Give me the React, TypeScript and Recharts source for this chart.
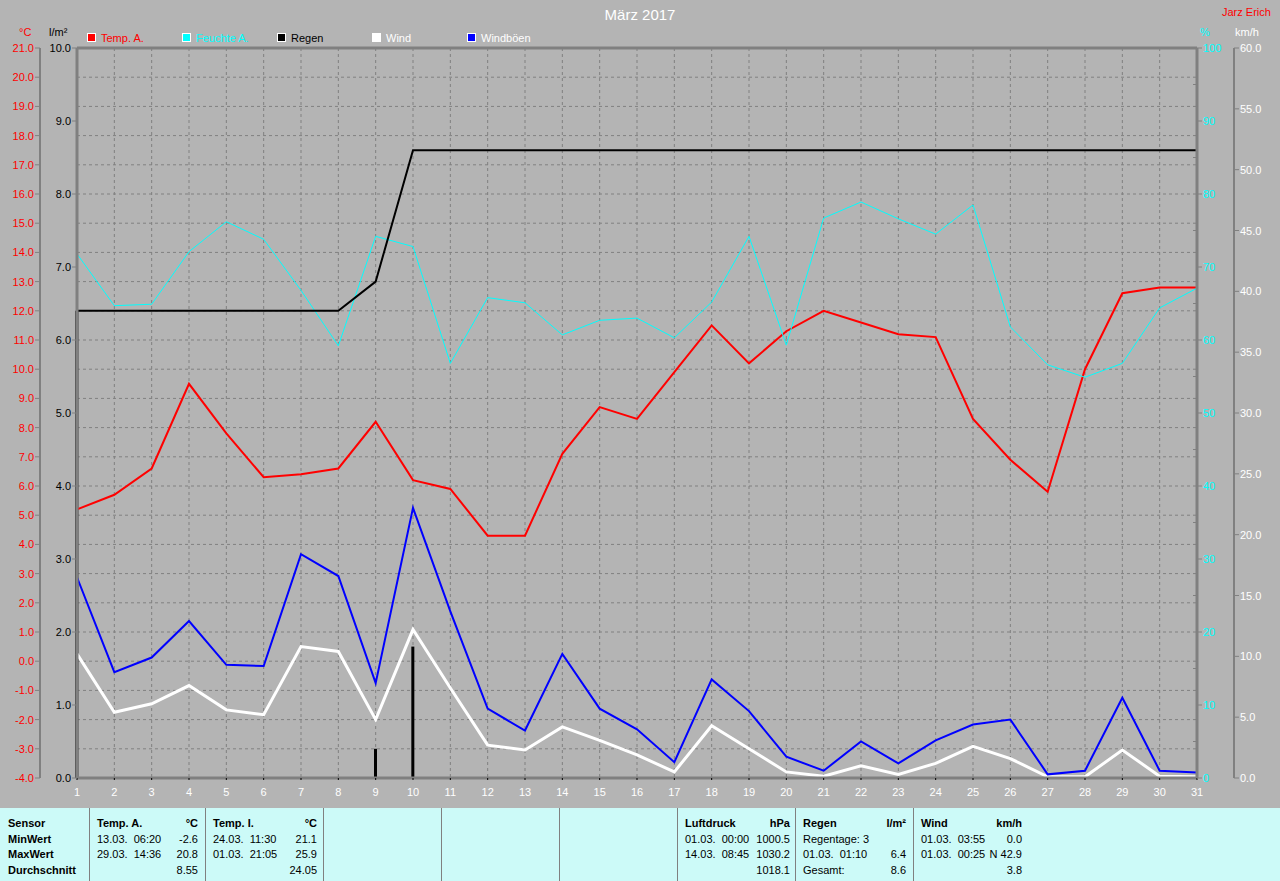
import React from 'react';
import { ComposedChart, Line, Bar, XAxis, YAxis, CartesianGrid, ReferenceLine } from 'recharts';

const days = [1, 2, 3, 4, 5, 6, 7, 8, 9, 10, 11, 12, 13, 14, 15, 16, 17, 18, 19, 20, 21, 22, 23, 24, 25, 26, 27, 28, 29, 30, 31];
const tempA = [5.2, 5.7, 6.6, 9.5, 7.8, 6.3, 6.4, 6.6, 8.2, 6.2, 5.9, 4.3, 4.3, 7.1, 8.7, 8.3, 9.9, 11.5, 10.2, 11.3, 12.0, 11.6, 11.2, 11.1, 8.3, 6.9, 5.8, 10.0, 12.6, 12.8, 12.8];
const humidity = [71.8, 64.7, 64.9, 72.1, 76.2, 73.8, 66.8, 59.2, 74.2, 72.8, 56.8, 65.8, 65.1, 60.7, 62.7, 63.0, 60.3, 65.2, 74.2, 59.3, 76.7, 78.9, 76.6, 74.5, 78.5, 61.8, 56.6, 54.9, 56.8, 64.4, 67.1];
const rainDaily = [6.4, 0, 0, 0, 0, 0, 0, 0, 0.4, 1.8, 0, 0, 0, 0, 0, 0, 0, 0, 0, 0, 0, 0, 0, 0, 0, 0, 0, 0, 0, 0, 0];
const rainTotal = [6.4, 6.4, 6.4, 6.4, 6.4, 6.4, 6.4, 6.4, 6.8, 8.6, 8.6, 8.6, 8.6, 8.6, 8.6, 8.6, 8.6, 8.6, 8.6, 8.6, 8.6, 8.6, 8.6, 8.6, 8.6, 8.6, 8.6, 8.6, 8.6, 8.6, 8.6];
const wind = [10.2, 5.4, 6.1, 7.6, 5.6, 5.2, 10.8, 10.4, 4.8, 12.2, 7.4, 2.7, 2.3, 4.2, 3.1, 1.9, 0.5, 4.3, 2.4, 0.5, 0.15, 1.0, 0.3, 1.2, 2.6, 1.6, 0.1, 0.1, 2.3, 0.15, 0.1];
const gusts = [16.5, 8.7, 9.9, 12.9, 9.3, 9.2, 18.4, 16.6, 7.8, 22.2, 13.7, 5.7, 3.9, 10.2, 5.7, 4.0, 1.3, 8.1, 5.5, 1.75, 0.6, 3.0, 1.2, 3.1, 4.4, 4.8, 0.3, 0.6, 6.6, 0.6, 0.45];

const tempTicks = [-4, -3, -2, -1, 0, 1, 2, 3, 4, 5, 6, 7, 8, 9, 10, 11, 12, 13, 14, 15, 16, 17, 18, 19, 20, 21];
const rainTicks = [0, 1, 2, 3, 4, 5, 6, 7, 8, 9, 10];
const humTicks = [0, 5, 10, 15, 20, 25, 30, 35, 40, 45, 50, 55, 60, 65, 70, 75, 80, 85, 90, 95, 100];
const windTicks = [0, 5, 10, 15, 20, 25, 30, 35, 40, 45, 50, 55, 60];

const legendItems = [
  { name: 'Temp. A.', color: '#ff0000', text: '#ff0000' },
  { name: 'Feuchte A.', color: '#00ffff', text: '#00ffff' },
  { name: 'Regen', color: '#000000', text: '#000000' },
  { name: 'Wind', color: '#ffffff', text: '#ffffff' },
  { name: 'Windböen', color: '#0000ff', text: '#ffffff' },
];

// table columns: header + 3 rows, [left, right]
const tableCols = [
  { x: 0, w: 89, right: 0, bold: true, rows: [['Sensor', ''], ['MinWert', ''], ['MaxWert', ''], ['Durchschnitt', '']] },
  { x: 89, w: 116, right: 198, bold: false, rows: [['Temp. A.', '°C'], ['13.03.  06:20', '-2.6'], ['29.03.  14:36', '20.8'], ['', '8.55']] },
  { x: 205, w: 118, right: 317, bold: false, rows: [['Temp. I.', '°C'], ['24.03.  11:30', '21.1'], ['01.03.  21:05', '25.9'], ['', '24.05']] },
  { x: 323, w: 118, right: 0, bold: false, rows: [] },
  { x: 441, w: 118, right: 0, bold: false, rows: [] },
  { x: 559, w: 118, right: 0, bold: false, rows: [] },
  { x: 677, w: 118, right: 790, bold: false, rows: [['Luftdruck', 'hPa'], ['01.03.  00:00', '1000.5'], ['14.03.  08:45', '1030.2'], ['', '1018.1']] },
  { x: 795, w: 118, right: 906, bold: false, rows: [['Regen', 'l/m²'], ['Regentage: 3', ''], ['01.03.  01:10', '6.4'], ['Gesamt:', '8.6']] },
  { x: 913, w: 367, right: 1022, bold: false, rows: [['Wind', 'km/h'], ['01.03.  03:55', '0.0'], ['01.03.  00:25', 'N 42.9'], ['', '3.8']] },
];

const FONT = '"Liberation Sans", Arial, sans-serif';

const data = days.map((d, i) => ({
  day: d,
  temp: tempA[i],
  hum: humidity[i],
  rain: rainDaily[i],
  total: rainTotal[i],
  wind: wind[i],
  gust: gusts[i],
}));

const TempTick = (props: any) => {
  const { x, y, payload } = props;
  return (
    <g>
      <line x1={x - 5} x2={x} y1={y} y2={y} stroke="#808080" />
      <text x={x - 6} y={y} dy={4} textAnchor="end" fill="#ff0000" fontSize={11} fontFamily={FONT}>
        {payload.value.toFixed(1)}
      </text>
    </g>
  );
};

const RainTick = (props: any) => {
  const { x, y, payload } = props;
  return (
    <g>
      <line x1={x - 5} x2={x} y1={y} y2={y} stroke="#808080" />
      <text x={x - 6} y={y} dy={4} textAnchor="end" fill="#000000" fontSize={11} fontFamily={FONT}>
        {payload.value.toFixed(1)}
      </text>
    </g>
  );
};

const HumTick = (props: any) => {
  const { x, y, payload } = props;
  if (payload.value % 10 !== 0) {
    return <line x1={x - 4} x2={x} y1={y} y2={y} stroke="#808080" />;
  }
  return (
    <g>
      <line x1={x} x2={x + 5} y1={y} y2={y} stroke="#808080" />
      <text x={x + 6} y={y} dy={4} textAnchor="start" fill="#00ffff" fontSize={11} fontFamily={FONT}>
        {payload.value}
      </text>
    </g>
  );
};

const WindTick = (props: any) => {
  const { x, y, payload } = props;
  return (
    <g>
      <line x1={x} x2={x + 5} y1={y} y2={y} stroke="#808080" />
      <text x={x + 6} y={y} dy={4} textAnchor="start" fill="#ffffff" fontSize={11} fontFamily={FONT}>
        {payload.value.toFixed(1)}
      </text>
    </g>
  );
};

const txt = (s: React.CSSProperties): React.CSSProperties => ({
  position: 'absolute',
  fontFamily: FONT,
  fontSize: 11,
  lineHeight: '12px',
  whiteSpace: 'pre',
  ...s,
});

const App: React.FC = () => {
  return (
    <div style={{ position: 'absolute', left: 0, top: 0, width: 1280, height: 881, background: '#b4b4b4', overflow: 'hidden' }}>
      <div style={txt({ left: 0, width: 1280, top: 6, textAlign: 'center', fontSize: 15, lineHeight: '18px', color: '#ffffff' })}>März 2017</div>
      <div style={txt({ left: 1222, top: 6, color: '#ff0000' })}>Jarz Erich</div>

      <div style={txt({ left: 19, top: 26, color: '#ff0000' })}>°C</div>
      <div style={txt({ left: 49, top: 26, color: '#000000' })}>l/m²</div>
      <div style={txt({ left: 1200, top: 26, color: '#00ffff' })}>%</div>
      <div style={txt({ left: 1235, top: 26, color: '#ffffff' })}>km/h</div>

      {legendItems.map((it, i) => (
        <div key={it.name} style={{ position: 'absolute', left: 87 + i * 95, top: 33 }}>
          <div style={{ position: 'absolute', left: 0, top: 0, width: 7, height: 7, background: it.color, border: '1px solid #ffffff' }} />
          <div style={txt({ left: 14, top: -1, color: it.text })}>{it.name}</div>
        </div>
      ))}

      <div style={{ position: 'absolute', left: 0, top: 0 }}>
        <ComposedChart
          width={1280}
          height={806}
          data={data}
          margin={{ top: 48, right: 0, bottom: 0, left: 0 }}
          style={{ fontFamily: FONT }}
        >
          <CartesianGrid yAxisId="temp" stroke="#808080" strokeDasharray="3 3" />
          <XAxis
            dataKey="day"
            type="number"
            domain={[1, 31]}
            ticks={days}
            interval={0}
            height={28}
            axisLine={{ stroke: '#808080', strokeWidth: 3 }}
            tickLine={{ stroke: '#000000' }}
            tickSize={2}
            tickMargin={8}
            tick={{ fill: '#ffffff', fontSize: 11 }}
          />
          <YAxis yAxisId="rain" orientation="left" width={37} domain={[0, 10]} ticks={rainTicks}
            axisLine={{ stroke: '#808080', strokeWidth: 3 }} tickLine={false} tickSize={0} tickMargin={0} tick={<RainTick />} />
          <YAxis yAxisId="temp" orientation="left" width={40} domain={[-4, 21]} ticks={tempTicks}
            axisLine={{ stroke: '#808080', strokeWidth: 2 }} tickLine={false} tickSize={0} tickMargin={0} tick={<TempTick />} />
          <YAxis yAxisId="hum" orientation="right" width={37} domain={[0, 100]} ticks={humTicks}
            axisLine={{ stroke: '#808080', strokeWidth: 3 }} tickLine={false} tickSize={0} tickMargin={0} tick={<HumTick />} />
          <YAxis yAxisId="wind" orientation="right" width={46} domain={[0, 60]} ticks={windTicks}
            axisLine={{ stroke: '#808080', strokeWidth: 2 }} tickLine={false} tickSize={0} tickMargin={0} tick={<WindTick />} />
          <ReferenceLine yAxisId="rain" y={10} stroke="#808080" strokeWidth={3} />

          <Line yAxisId="temp" dataKey="temp" stroke="#ff0000" strokeWidth={2} dot={false} isAnimationActive={false} />
          <Line yAxisId="hum" dataKey="hum" stroke="#00ffff" strokeWidth={1} dot={false} isAnimationActive={false} />
          <Bar yAxisId="rain" dataKey="rain" fill="#000000" barSize={3} isAnimationActive={false} />
          <Line yAxisId="rain" dataKey="total" stroke="#000000" strokeWidth={2} dot={false} isAnimationActive={false} />
          <Line yAxisId="wind" dataKey="wind" stroke="#ffffff" strokeWidth={3} dot={false} isAnimationActive={false} />
          <Line yAxisId="wind" dataKey="gust" stroke="#0000ff" strokeWidth={2} dot={false} isAnimationActive={false} />
        </ComposedChart>
      </div>

      <div style={{ position: 'absolute', left: 0, top: 808, width: 1280, height: 73, background: '#ccfaf8' }}>
        {tableCols.map((col, ci) => (
          <div key={ci} style={{ position: 'absolute', left: col.x, top: 0, width: col.w, height: 73, borderLeft: ci > 0 ? '1px solid #808080' : 'none', boxSizing: 'border-box' }}>
            {col.rows.map((r, ri) => (
              <React.Fragment key={ri}>
                <div style={txt({ left: ci === 0 ? 8 : 7, top: 9 + ri * 15.5, fontWeight: ri === 0 || col.bold ? 'bold' : 'normal', color: '#000000' })}>{r[0]}</div>
                {r[1] !== '' && (
                  <div style={txt({ right: col.x + col.w - col.right, top: 9 + ri * 15.5, fontWeight: ri === 0 ? 'bold' : 'normal', color: '#000000', textAlign: 'right' })}>{r[1]}</div>
                )}
              </React.Fragment>
            ))}
          </div>
        ))}
      </div>
    </div>
  );
};

export default App;
